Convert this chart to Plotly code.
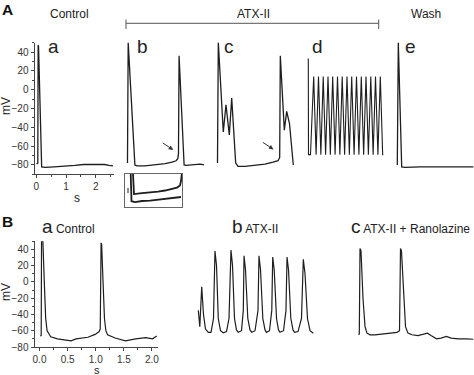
import plotly.graph_objects as go

W, H = 474, 375

# ---------------- data (time in s, membrane potential in mV) ----------------
# Panel A
aa_t = [0.01, 0.05, 0.062, 0.075, 0.18, 0.3, 0.6, 1.0, 1.3, 1.6, 2.0, 2.3, 2.45, 2.58]
aa_v = [-79, -78, 47.5, 46, -82, -82.5, -82, -81.5, -80.5, -79.5, -79.5, -79.5, -80.5, -81]

ab_t = [0.05, 0.074, 0.30, 0.37, 0.64, 0.98, 1.32, 1.55, 1.69, 1.75, 1.77, 1.79, 1.96, 2.02, 2.33, 2.50, 2.63]
ab_v = [-78, 50, -80, -81, -81, -80, -78.5, -77, -75.5, -73, -68, 36, -80, -80.5, -79.5, -79, -80]

ac_t = [0.05, 0.078, 0.246, 0.337, 0.449, 0.53, 0.664, 0.742, 0.978, 1.315, 1.653, 1.922, 2.091,
        2.148, 2.169, 2.304, 2.384, 2.479, 2.607]
ac_v = [-78, 50, -45, -16, -48, -9, -78, -81.5, -81.5, -80.5, -79, -77, -75.5,
        -72, 36, -43, -23, -36, -80]

ad_t = [0.111, 0.118, 0.185, 0.293, 0.374, 0.455, 0.535, 0.614, 0.695, 0.776, 0.855, 0.934,
        1.015, 1.096, 1.176, 1.255, 1.336, 1.417, 1.496, 1.575, 1.656, 1.737, 1.818, 1.899,
        1.978, 2.057, 2.138, 2.219, 2.298, 2.378, 2.459, 2.540, 2.62, 2.64]
ad_v = [33, -69, -69, 14, -69, 14, -69, 14, -69, 14, -69, 14,
        -69, 14, -69, 14, -69, 14, -69, 14, -69, 14, -69, 14,
        -69, 14, -69, 14, -69, 14, -69, 14, -69, -69]

ae_t = [0.044, 0.078, 0.192, 0.30, 0.81, 1.48, 2.16, 2.61]
ae_v = [-80, 50, -82, -82.5, -82, -82.3, -82, -82]

# inset (magnified baselines of b and c)
in_up_t = [0.288, 0.323, 0.601, 0.878, 1.156, 1.399, 1.642, 1.816, 1.92, 1.955, 1.983]
in_up_v = [-70, -79.7, -79.2, -79.0, -78.5, -78.0, -77.3, -76.6, -75.6, -73.5, -70.1]
in_lo_t = [0.208, 0.236, 0.358, 0.601, 0.878, 1.156, 1.399, 1.642, 1.955]
in_lo_v = [-70, -83.1, -83.5, -83.0, -82.8, -82.3, -82.0, -81.6, -81.1]
in_tick_t = [0.115, 0.115]
in_tick_v = [-76.8, -79.2]

# Panel B
ba_t = [0.013, 0.03, 0.036, 0.06, 0.085, 0.11, 0.135, 0.17, 0.2, 0.32, 0.5, 0.56, 0.65, 0.86,
        0.99, 1.06, 1.08, 1.095, 1.105, 1.13, 1.155, 1.18, 1.21, 1.345, 1.527, 1.71, 1.89,
        2.01, 2.085]
ba_v = [-66.5, -66, 50, 50, 0, -45, -60, -65, -67.5, -70, -72, -72.5, -70, -68,
        -64.5, -61, -58, 48, 46, 0, -45, -60, -65, -69, -72.5, -70, -68.5,
        -70, -66.5]

bb_t = [0.042, 0.069, 0.104, 0.136, 0.173, 0.224, 0.273, 0.318, 0.345, 0.373, 0.405, 0.445,
        0.496, 0.555, 0.600, 0.636, 0.664, 0.700, 0.736, 0.769, 0.827, 0.860, 0.873, 0.900,
        0.942, 0.982, 1.013, 1.073, 1.127, 1.145, 1.173, 1.215, 1.255, 1.282, 1.336, 1.378,
        1.395, 1.422, 1.464, 1.500, 1.527, 1.591, 1.636, 1.655, 1.682, 1.724, 1.764, 1.791,
        1.855, 1.918, 1.951, 1.982, 2.027, 2.073, 2.133]
bb_v = [-35, -55, -6, -40, -58, -62, -62, -45, 38, 20, -45, -60,
        -62.5, -61, -45, 39, 20, -45, -59, -62, -60, -35, 32, 15,
        -45, -59, -62, -60, -35, 32, 15, -45, -59, -62, -60, -35,
        30.5, 15, -45, -59, -62, -60, -35, 30.5, 15, -45, -59, -62,
        -61, -45, 27.7, 10, -45, -60, -63]

bc_t = [0.042, 0.060, 0.073, 0.091, 0.127, 0.164, 0.2, 0.255, 0.345, 0.527, 0.655, 0.745,
        0.791, 0.809, 0.827, 0.864, 0.9, 0.945, 1.018, 1.127, 1.236, 1.3, 1.364, 1.464,
        1.545, 1.645, 1.727, 1.855, 2.0, 2.133]
bc_v = [-64.5, -64, 41, 38, -20, -55, -63, -65, -65, -64, -63, -62,
        -60, 41, 38, -20, -55, -63, -65, -66, -64, -63, -66, -70,
        -69, -67, -69, -70, -70, -70.5]

# ---------------- layout helpers (pixel geometry) ----------------
def fx(px):
    return px / W

def fy(py):
    return 1 - py / H

FONT = "Liberation Sans, Arial, sans-serif"

fig = go.Figure()

def add(t, v, n, width=1.2):
    sfx = "" if n == 1 else str(n)
    fig.add_trace(go.Scatter(x=t, y=v, mode="lines", xaxis="x" + sfx, yaxis="y" + sfx,
                             line=dict(color="#1e1e1e", width=width), hoverinfo="skip"))

add(aa_t, aa_v, 1, 1.3)
add(ab_t, ab_v, 2, 1.3)
add(ac_t, ac_v, 3, 1.3)
add(ad_t, ad_v, 4, 1.1)
add(ae_t, ae_v, 5, 1.3)
add(in_up_t, in_up_v, 6, 1.8)
add(in_lo_t, in_lo_v, 6, 1.8)
add(in_tick_t, in_tick_v, 6, 1.0)
add(ba_t, ba_v, 7, 1.2)
add(bb_t, bb_v, 8, 1.2)
add(bc_t, bc_v, 9, 1.2)

tickfont = dict(family=FONT, size=10, color="#333")
vis_axis = dict(showline=True, linecolor="#444", linewidth=1, ticks="outside", ticklen=3,
                tickwidth=1, tickcolor="#444", tickfont=tickfont, showgrid=False,
                zeroline=False)

A_TOP, A_BOT = 42.6, 174.4
B_TOP, B_BOT = 241.2, 347.0
A_SCALE = 29.65  # px per s (hidden panels)
B_SCALE = 55.0

def hidden(x0, x1, scale, anchor):
    return dict(visible=False, domain=[fx(x0), fx(x1)], range=[0, (x1 - x0) / scale],
                anchor=anchor, fixedrange=True)

def hidden_y(top, bot, rng, anchor):
    return dict(visible=False, domain=[fy(bot), fy(top)], range=rng, anchor=anchor,
                fixedrange=True)

layout = dict(
    width=W, height=H, margin=dict(l=0, r=0, t=0, b=0, autoexpand=False),
    paper_bgcolor="white", plot_bgcolor="white", showlegend=False,
    font=dict(family=FONT, color="#222"),
    xaxis=dict(vis_axis, domain=[fx(34.5), fx(114)], range=[-0.061, 2.616], dtick=1, tick0=0,
               minor=dict(dtick=0.5, ticks="outside", ticklen=2, tickcolor="#444"),
               anchor="y"),
    yaxis=dict(vis_axis, domain=[fy(A_BOT), fy(A_TOP)], range=[-90, 50], dtick=20, tick0=0,
               minor=dict(dtick=10, ticks="outside", ticklen=2, tickcolor="#444"),
               anchor="x"),
    xaxis2=hidden(126, 206, A_SCALE, "y2"),
    yaxis2=hidden_y(A_TOP, A_BOT, [-90, 50], "x2"),
    xaxis3=hidden(216, 296, A_SCALE, "y3"),
    yaxis3=hidden_y(A_TOP, A_BOT, [-90, 50], "x3"),
    xaxis4=hidden(305, 387, A_SCALE, "y4"),
    yaxis4=hidden_y(A_TOP, A_BOT, [-90, 50], "x4"),
    xaxis5=hidden(396, 474, A_SCALE, "y5"),
    yaxis5=hidden_y(A_TOP, A_BOT, [-90, 50], "x5"),
    xaxis6=dict(domain=[fx(124.7), fx(182.3)], range=[0, 2.0], anchor="y6", showline=True,
                mirror=True, linecolor="#666", linewidth=1, ticks="", showticklabels=False,
                showgrid=False, zeroline=False),
    yaxis6=dict(domain=[fy(207.3), fy(173.7)], range=[-86, -70], anchor="x6", showline=True,
                mirror=True, linecolor="#666", linewidth=1, ticks="", showticklabels=False,
                showgrid=False, zeroline=False),
    xaxis7=dict(vis_axis, domain=[fx(34.5), fx(158)], range=[-0.089, 2.107], dtick=0.5, tick0=0,
                tickformat=".1f",
                minor=dict(dtick=0.25, ticks="outside", ticklen=2, tickcolor="#444"),
                anchor="y7"),
    yaxis7=dict(vis_axis, domain=[fy(B_BOT), fy(B_TOP)], range=[-80, 50], dtick=20, tick0=0,
                minor=dict(dtick=10, ticks="outside", ticklen=2, tickcolor="#444"),
                anchor="x7"),
    xaxis8=hidden(196, 316, B_SCALE, "y8"),
    yaxis8=hidden_y(B_TOP, B_BOT, [-80, 50], "x8"),
    xaxis9=hidden(356, 474, B_SCALE, "y9"),
    yaxis9=hidden_y(B_TOP, B_BOT, [-80, 50], "x9"),
)
fig.update_layout(**layout)

def label(text, px, py, size, bold=False, angle=0, color="#222"):
    fig.add_annotation(text=("<b>%s</b>" % text) if bold else text, x=fx(px), y=fy(py),
                       xref="paper", yref="paper", showarrow=False, xanchor="center",
                       yanchor="middle", textangle=angle, borderpad=0,
                       font=dict(family=FONT, size=size, color=color))

# panel letters
label("A", 8, 9.5, 15.5, bold=True, color="#111")
label("B", 8, 221, 15.5, bold=True, color="#111")
# A condition headers
label("Control", 69, 14, 12)
label("ATX-II", 253.5, 14, 12)
label("Wash", 425.5, 14, 12)
# A sub-panel letters
for txt, px in [("a", 53), ("b", 142), ("c", 229), ("d", 317.5), ("e", 410)]:
    label(txt, px, 46, 19)
# axis titles
label("mV", 6, 106, 12, angle=-90)
label("s", 77, 198, 12)
label("mV", 6, 292, 12, angle=-90)
label("s", 97, 369.5, 11)
# B headers
label("<span style='font-size:19px'>a</span> Control", 68.5, 227, 12)
label("<span style='font-size:19px'>b</span> ATX-II", 254.5, 227, 12)
label("<span style='font-size:19px'>c</span> ATX-II + Ranolazine", 410.5, 227, 12)

# arrows pointing to the slow depolarisation before the triggered beat
for xr, yr, t, v in [("x2", "y2", 1.593, -64), ("x3", "y3", 1.939, -63.5)]:
    fig.add_annotation(x=t, y=v, xref=xr, yref=yr, ax=-12, ay=-8, showarrow=True,
                       arrowhead=2, arrowsize=0.9, arrowwidth=1, arrowcolor="#333", text="")

# ATX-II bracket
BR = dict(color="#555", width=1)
fig.add_shape(type="line", xref="paper", yref="paper", x0=fx(126), x1=fx(378.7),
              y0=fy(23.3), y1=fy(23.3), line=BR)
fig.add_shape(type="line", xref="paper", yref="paper", x0=fx(126), x1=fx(126),
              y0=fy(19.5), y1=fy(29), line=BR)
fig.add_shape(type="line", xref="paper", yref="paper", x0=fx(378.7), x1=fx(378.7),
              y0=fy(19.5), y1=fy(29), line=BR)

fig.write_html("out.html", config={"displayModeBar": False, "staticPlot": True},
               post_script="document.body.style.margin='0';document.body.style.overflow='hidden';")
